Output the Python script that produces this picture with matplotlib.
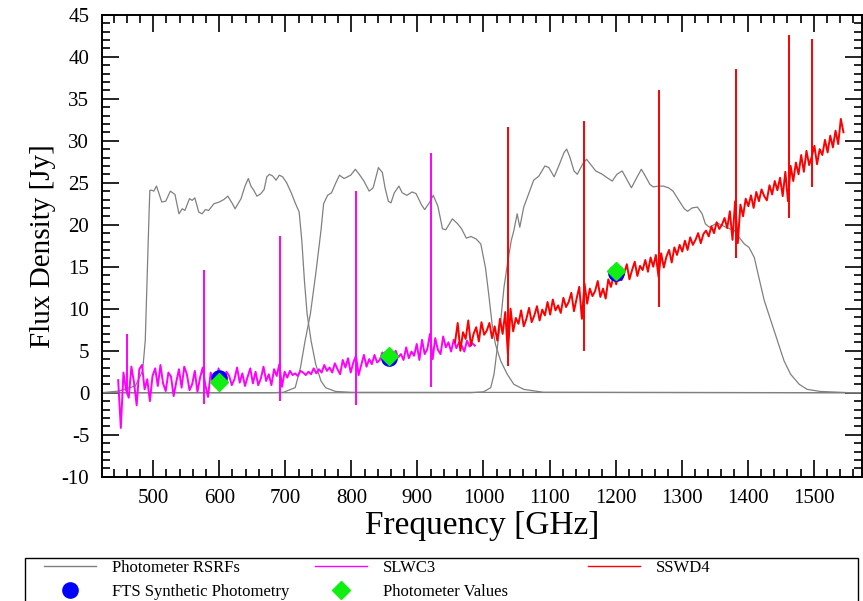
import numpy as np
import matplotlib
matplotlib.use("Agg")
import matplotlib.pyplot as plt
from matplotlib.lines import Line2D
from matplotlib.patches import Rectangle

# --- photometer relative spectral response functions (scaled) ---
plw_freq = [422, 448, 473, 484, 488, 491, 494, 495, 498, 501, 505, 513, 519, 526, 533, 539, 544, 548,
            555, 559, 563, 569, 574, 579, 584, 592, 600, 607, 613, 620, 624, 633, 639, 644, 648, 653,
            657, 663, 668, 672, 676, 681, 686, 691, 696, 702, 709, 715, 721, 725, 729, 733, 739, 746,
            754, 761, 776, 800, 1573]
plw_resp = [0.0, 0.2, 0.8, 2.6, 6.2, 14.1, 22.0, 24.1, 24.1, 24.0, 24.6, 22.7, 22.8, 24.0, 23.6, 21.3,
            21.9, 21.7, 23.1, 22.9, 23.2, 21.5, 21.3, 21.8, 21.7, 22.5, 22.7, 23.0, 23.4, 22.5, 21.9,
            23.1, 24.6, 25.5, 24.6, 24.0, 23.4, 23.7, 24.2, 25.7, 26.0, 25.8, 25.3, 25.9, 25.7, 25.0,
            23.8, 22.6, 21.5, 18.1, 13.3, 9.4, 6.2, 3.4, 1.4, 0.6, 0.15, 0.05, 0.0]

pmw_freq = [422, 680, 697, 715, 723, 730, 738, 746, 754, 758, 764, 770, 776, 782, 789, 799, 806, 812,
            819, 827, 833, 841, 847, 851, 856, 860, 865, 872, 877, 884, 892, 898, 906, 911, 918, 924,
            931, 938, 943, 953, 961, 967, 974, 981, 989, 996, 1003, 1008, 1013, 1018, 1026, 1036,
            1046, 1061, 1091, 1573]
pmw_resp = [0.0, 0.0, 0.05, 0.6, 3.0, 6.2, 9.4, 14.1, 19.3, 22.5, 23.5, 23.8, 24.9, 25.9, 25.5, 25.9,
            26.6, 26.0, 25.2, 24.0, 24.4, 26.8, 26.2, 24.4, 22.8, 22.6, 23.8, 24.6, 23.8, 23.5, 23.9,
            23.7, 22.4, 21.8, 22.6, 23.5, 22.2, 19.5, 19.4, 20.7, 20.1, 19.5, 18.4, 18.6, 18.3, 17.7,
            14.9, 11.7, 8.2, 5.8, 3.8, 2.2, 1.0, 0.4, 0.05, 0.0]

psw_freq = [422, 980, 1000, 1011, 1016, 1021, 1026, 1031, 1037, 1042, 1046, 1051, 1055, 1061, 1069,
            1076, 1084, 1093, 1099, 1107, 1114, 1122, 1126, 1131, 1137, 1142, 1150, 1156, 1162, 1170,
            1180, 1187, 1195, 1202, 1210, 1217, 1224, 1232, 1239, 1245, 1252, 1257, 1265, 1272, 1280,
            1287, 1295, 1304, 1309, 1316, 1324, 1331, 1336, 1342, 1354, 1367, 1380, 1387, 1395, 1402,
            1410, 1417, 1425, 1435, 1445, 1455, 1465, 1478, 1490, 1510, 1556, 1573]
psw_resp = [0.0, 0.0, 0.1, 0.6, 2.2, 5.4, 8.5, 12.5, 15.7, 18.1, 19.3, 21.3, 19.7, 22.1, 23.8, 25.3,
            25.8, 27.0, 26.8, 25.7, 27.0, 28.6, 29.0, 28.0, 26.4, 26.0, 27.2, 27.8, 27.2, 26.4, 26.0,
            25.6, 25.2, 26.0, 26.4, 25.4, 24.4, 25.6, 26.6, 25.8, 24.8, 24.5, 24.6, 24.6, 24.4, 24.0,
            23.0, 21.9, 21.6, 22.0, 22.1, 21.3, 20.1, 19.7, 20.2, 19.7, 19.3, 18.5, 17.7, 17.3, 16.1,
            13.7, 11.0, 8.6, 6.2, 3.8, 2.2, 1.0, 0.4, 0.15, 0.0, 0.0]

slw_start, ssw_start, step = 447, 957, 4
slw_flux = [1.5, -4.2, 2.4, 0.3, -0.6, 3.1, 1.2, -1.5,
            2.8, 3.3, 0.4, 1.6, -1.0, 2.0, 2.9, 0.8,
            3.3, 1.1, 0.2, 2.4, 1.9, -0.4, 1.3, 2.8,
            0.6, 3.1, 2.2, 0.3, 1.0, 2.6, 0.1, 1.8,
            3.0, 0.9, -0.5, 2.4, 1.6, 0.7, 2.9, 1.5,
            1.0, 2.5, 2.0, 0.9, 1.6, 3.0, 1.2, 2.3,
            0.8, 1.9, 2.9, 1.1, 2.5, 0.9, 1.7, 3.1,
            1.4, 2.2, 0.9, 2.8, 2.0, 3.4, 0.7, 2.5,
            1.8, 2.6, 2.1, 2.3, 2.0, 2.6, 2.4, 2.1,
            2.5, 2.2, 2.9, 2.3, 2.8, 2.4, 3.3, 2.6,
            3.0, 2.4, 3.5, 2.8, 2.2, 3.9, 3.0, 4.1,
            2.4, 3.6, 4.4, 2.1, 3.3, 4.5, 3.1, 4.0,
            3.4, 4.5, 3.6, 3.9, 4.8, 3.5, 4.4, 4.2,
            3.7, 5.0, 4.2, 4.6, 3.9, 5.4, 4.1, 4.9,
            4.4, 5.8, 3.9, 6.3, 4.6, 5.2, 7.0, 4.0,
            6.5, 5.1, 4.6, 6.7, 5.4, 6.0, 4.9, 6.3,
            5.3, 6.0, 5.6, 4.9, 6.2, 5.5, 5.9, 5.6]
ssw_flux = [6.0, 8.3, 5.0, 7.2, 6.4, 8.6, 5.6, 7.0,
            7.8, 6.1, 8.4, 6.9, 7.4, 8.3, 6.5, 7.9,
            6.2, 8.8, 7.0, 9.6, 4.6, 10.0, 7.3, 8.9,
            8.2, 9.8, 7.9, 8.8, 10.1, 8.4, 9.2, 10.3,
            8.6, 9.9, 9.2, 10.8, 9.3, 11.1, 9.8, 10.4,
            9.5, 11.3, 10.2, 10.8, 11.9, 9.7, 11.2, 12.6,
            8.8, 13.0, 10.6, 12.4, 11.5, 12.1, 13.3, 11.4,
            12.4, 11.2, 13.5, 12.6, 13.9, 12.9, 14.6, 13.4,
            14.2, 15.3, 13.5, 14.6, 15.6, 13.9, 15.1, 14.6,
            15.8, 14.4, 16.1, 15.0, 16.4, 13.8, 16.6, 14.9,
            16.2, 17.0, 15.5, 17.3, 16.4, 17.6, 16.8, 18.1,
            17.0, 18.5, 17.6, 18.2, 19.0, 17.8, 18.9, 19.3,
            18.6, 19.8, 19.0, 20.3, 19.5, 20.0, 20.8, 19.6,
            21.6, 18.2, 22.8, 17.8, 22.4, 21.0, 23.1, 22.2,
            23.5, 22.0, 23.9, 22.8, 24.2, 23.4, 22.9, 24.7,
            23.6, 25.2, 24.1, 25.6, 23.4, 26.3, 22.8, 27.0,
            25.2, 27.4, 26.0, 28.3, 26.3, 28.8, 27.1, 28.1,
            29.4, 27.2, 29.0, 28.3, 30.1, 28.6, 30.6, 29.2,
            31.2, 29.6, 32.6, 31.0]

# narrow lines (top and bottom of each spike)
slw_line_freq = [460, 577, 692, 807, 921]
slw_line_hi = [7.0, 14.6, 18.7, 24.0, 28.5]
slw_line_lo = [0.0, -1.3, -1.0, -1.5, 0.7]
ssw_line_freq = [1037, 1152, 1266, 1382, 1462, 1497]
ssw_line_hi = [31.6, 32.3, 36.0, 38.5, 42.6, 42.1]
ssw_line_lo = [3.2, 5.0, 10.2, 16.0, 20.8, 24.5]

# --- photometry ---
band_freq = [600, 857, 1200]
fts_synth = [1.8, 4.1, 14.25]
phot_vals = [1.3, 4.4, 14.5]

GRAY, MAG, RED = "#808080", "#ff00ff", "#ff0000"
BLUE, GREEN = "#0000ff", "#11ee11"

plt.rcParams.update({"font.family": ["Liberation Serif", "DejaVu Serif"],
                     "axes.linewidth": 1.4, "axes.unicode_minus": False})

fig = plt.figure(figsize=(8.63, 6.01), dpi=100)
ax = fig.add_axes([0.1178, 0.2068, 0.881, 0.7687])

for fr, rs in [(plw_freq, plw_resp), (pmw_freq, pmw_resp), (psw_freq, psw_resp)]:
    ax.plot(fr, rs, color=GRAY, lw=0.9, zorder=2)

slw_freq = slw_start + step * np.arange(len(slw_flux))
ssw_freq = ssw_start + step * np.arange(len(ssw_flux))
ax.plot(slw_freq, slw_flux, color=MAG, lw=1.4, zorder=3)
ax.vlines(slw_line_freq, slw_line_lo, slw_line_hi, color=MAG, lw=1.4, zorder=3)
ax.plot(ssw_freq, ssw_flux, color=RED, lw=1.4, zorder=4)
ax.vlines(ssw_line_freq, ssw_line_lo, ssw_line_hi, color=RED, lw=1.4, zorder=4)

ax.plot(band_freq, fts_synth, "o", color=BLUE, ms=11, zorder=5)
ax.plot(band_freq, phot_vals, "D", color=GREEN, ms=9.5, zorder=6)

ax.set_xlim(422, 1573)
ax.set_ylim(-10, 45)
ax.set_xticks(np.arange(500, 1501, 100))
ax.set_xticks(np.arange(440, 1573, 20), minor=True)
ax.set_yticks(np.arange(-10, 46, 5))
ax.set_yticks(np.arange(-10, 46, 1), minor=True)
ax.tick_params(which="both", direction="in", top=True, right=True, width=1.2, labelsize=15)
ax.tick_params(which="major", length=12, pad=9)
ax.tick_params(which="minor", length=6)
ax.set_xlabel("Frequency [GHz]", fontsize=24, labelpad=2)
ax.set_ylabel("Flux Density [Jy]", fontsize=21, labelpad=4)

# legend box below the plot
fig.patches.append(Rectangle((25 / 863, -0.1), 833 / 863, 0.1 + 1 - 558 / 601,
                             transform=fig.transFigure, fill=False, lw=1.0, ec="black"))
leg_kw = dict(frameon=False, loc="upper left", fontsize=12, handlelength=3.1,
              handletextpad=1.0, labelspacing=0.45, borderpad=0, borderaxespad=0)
y_top = 1 - 560 / 601
fig.legend([Line2D([], [], color=GRAY, lw=1), Line2D([], [], ls="", marker="o", color=BLUE, ms=11)],
           ["Photometer RSRFs", "FTS Synthetic Photometry"],
           bbox_to_anchor=(44 / 863, y_top), **leg_kw)
fig.legend([Line2D([], [], color=MAG, lw=1), Line2D([], [], ls="", marker="D", color=GREEN, ms=9)],
           ["SLWC3", "Photometer Values"],
           bbox_to_anchor=(315 / 863, y_top), **leg_kw)
fig.legend([Line2D([], [], color=RED, lw=1)], ["SSWD4"],
           bbox_to_anchor=(588 / 863, y_top), **leg_kw)

fig.savefig("out.png", dpi=100)
